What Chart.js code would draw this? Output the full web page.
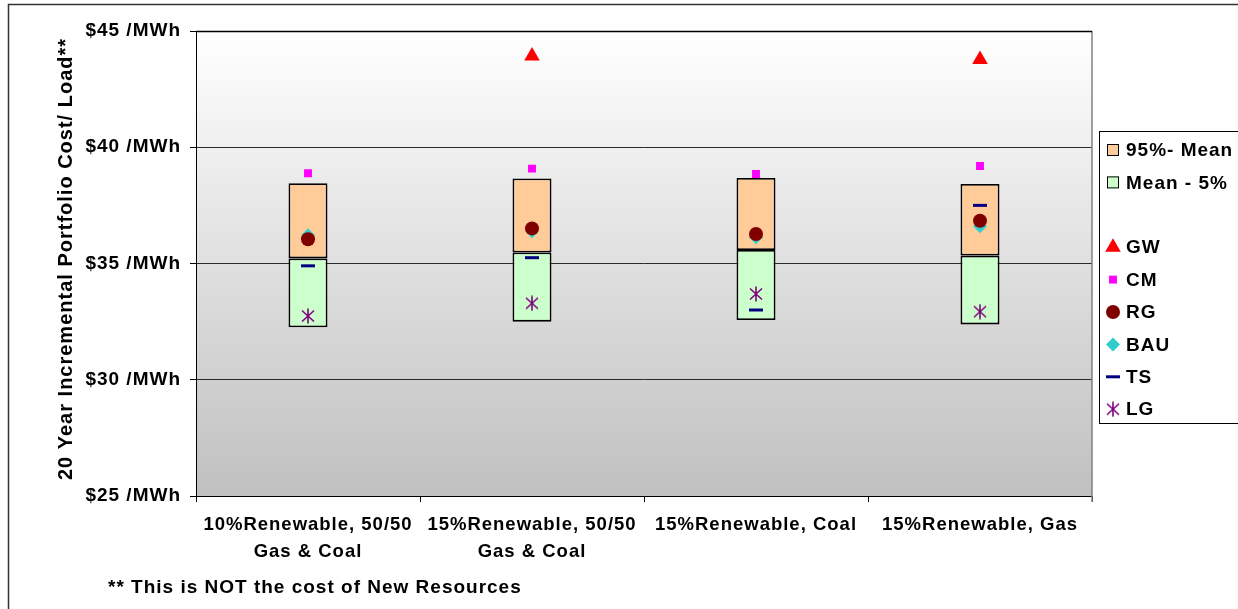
<!DOCTYPE html>
<html><head><meta charset="utf-8">
<script src="https://cdn.jsdelivr.net/npm/chart.js@4.4.0/dist/chart.umd.min.js"></script>
<style>html,body{margin:0;padding:0;background:#fff;overflow:hidden;}</style>
</head><body>
<canvas id="c" width="1238" height="609" style="display:block;width:1238px;height:609px"></canvas>
<script>
// ---- data ----
const categories = [["10%Renewable, 50/50", "Gas & Coal"], ["15%Renewable, 50/50", "Gas & Coal"], "15%Renewable, Coal", "15%Renewable, Gas"];
const yTicks = [25, 30, 35, 40, 45];
const p5   = [32.26, 32.50, 32.57, 32.38];
const mean = [35.22, 35.47, 35.58, 35.34];
const p95  = [38.45, 38.66, 38.68, 38.42];
const GW  = [null, 43.93, null, 43.77];
const CM  = [38.88, 39.08, 38.85, 39.19];
const RG  = [36.04, 36.51, 36.27, 36.84];
const BAU = [36.21, 36.39, 36.13, 36.60];
const TS  = [34.90, 35.25, 33.00, 37.50];
const LG  = [32.74, 33.29, 33.69, 32.93];
const yTitle = "20 Year Incremental Portfolio Cost/ Load**";
const footnote = "** This is NOT the cost of New Resources";

const FONT = '"Liberation Sans", Arial, sans-serif';

function makeAsterisk() {
  const c = document.createElement('canvas');
  c.width = 16; c.height = 16;
  const g = c.getContext('2d');
  g.strokeStyle = '#800080'; g.lineWidth = 1.6;
  g.beginPath();
  g.moveTo(2, 2.5); g.lineTo(14, 13.5);
  g.moveTo(14, 2.5); g.lineTo(2, 13.5);
  g.moveTo(8, 0.5); g.lineTo(8, 15.5);
  g.stroke();
  return c;
}
const asterisk = makeAsterisk();

function pointSet(label, data, style, radius, color, order, bw) {
  return {
    type: 'line', label, data, showLine: false, order,
    pointStyle: style, pointRadius: radius, pointHoverRadius: radius,
    pointBackgroundColor: color, pointBorderColor: color, pointBorderWidth: bw || 0,
    borderColor: color, backgroundColor: color
  };
}

const barCommon = { type: 'bar', grouped: false, barPercentage: 0.174, categoryPercentage: 1,
  borderColor: '#000', borderWidth: 1.8, borderSkipped: false, order: 20 };

const datasets = [
  Object.assign({ label: '95%- Mean', data: categories.map((_, i) => [mean[i], p95[i]]), backgroundColor: '#ffcc99' }, barCommon),
  Object.assign({ label: 'Mean - 5%', data: categories.map((_, i) => [p5[i], mean[i]]), backgroundColor: '#ccffcc' }, barCommon),
  pointSet('GW', GW, 'triangle', 9, '#ff0000', 6),
  pointSet('CM', CM, 'rect', 5.6, '#ff00ff', 5),
  pointSet('RG', RG, 'circle', 7, '#800000', 1),
  pointSet('BAU', BAU, 'rectRot', 7, '#33cccc', 4),
  pointSet('TS', TS, 'line', 7, '#000080', 3, 3),
  pointSet('LG', LG, asterisk, 8, '#800080', 2)
];

const spacing = {
  id: 'spacing',
  beforeLayout(chart) { chart.ctx.letterSpacing = '1px'; },
  beforeDraw(chart) { chart.ctx.letterSpacing = '1px'; }
};

const background = {
  id: 'background',
  beforeDraw(chart) {
    const { ctx, chartArea: a } = chart;
    ctx.save();
    ctx.fillStyle = '#fff';
    ctx.fillRect(0, 0, chart.width, chart.height);
    const g = ctx.createLinearGradient(0, a.top, 0, a.bottom);
    g.addColorStop(0, '#ffffff');
    g.addColorStop(1, '#c0c0c0');
    ctx.fillStyle = g;
    ctx.fillRect(a.left, a.top, a.right - a.left, a.bottom - a.top);
    ctx.restore();
  },
  beforeDatasetsDraw(chart) {
    const { ctx, chartArea: a } = chart;
    ctx.save();
    ctx.strokeStyle = '#808080'; ctx.lineWidth = 1.5;
    ctx.beginPath();
    ctx.moveTo(a.right, a.top); ctx.lineTo(a.right, a.bottom + 6);
    ctx.stroke();
    ctx.strokeStyle = '#000'; ctx.lineWidth = 1.5;
    ctx.beginPath();
    ctx.moveTo(a.left, a.top + 0.5); ctx.lineTo(a.right, a.top + 0.5);
    ctx.stroke();
    ctx.restore();
  }
};

const extras = {
  id: 'extras',
  afterDraw(chart) {
    const { ctx } = chart;
    ctx.save();
    ctx.letterSpacing = '1px';
    // outer border
    ctx.strokeStyle = '#333'; ctx.lineWidth = 1.5;
    ctx.strokeRect(8.5, 4.5, 1400, 800);
    // y title
    ctx.fillStyle = '#000';
    ctx.font = 'bold 20px ' + FONT;
    ctx.textAlign = 'center'; ctx.textBaseline = 'middle';
    ctx.save();
    ctx.translate(66, 259);
    ctx.rotate(-Math.PI / 2);
    ctx.fillText(yTitle, 0, 0);
    ctx.restore();
    // footnote
    ctx.font = 'bold 19px ' + FONT;
    ctx.textAlign = 'left';
    ctx.fillText(footnote, 108, 588);
    // legend
    const lx = 1099.5, ly = 131.5;
    ctx.fillStyle = '#fff';
    ctx.fillRect(lx, ly, 200, 292);
    ctx.strokeStyle = '#000'; ctx.lineWidth = 1;
    ctx.strokeRect(lx, ly, 200, 292);
    const slots = [0, 1, 3, 4, 5, 6, 7, 8];
    chart.data.datasets.forEach((ds, i) => {
      const y = 150 + slots[i] * 32.4;
      if (ds.type === 'bar') {
        ctx.fillStyle = ds.backgroundColor;
        ctx.fillRect(1107, y - 6, 12, 12);
        ctx.strokeStyle = '#000'; ctx.lineWidth = 1;
        ctx.strokeRect(1107.5, y - 5.5, 11, 11);
      } else {
        ctx.fillStyle = ds.pointBackgroundColor;
        ctx.strokeStyle = ds.pointBorderColor;
        ctx.lineWidth = ds.pointBorderWidth;
        Chart.helpers.drawPoint(ctx, { pointStyle: ds.pointStyle, radius: ds.pointRadius, rotation: 0, borderWidth: ds.pointBorderWidth }, 1113, y);
      }
      ctx.fillStyle = '#000';
      ctx.font = 'bold 19px ' + FONT;
      ctx.textAlign = 'left'; ctx.textBaseline = 'middle';
      ctx.fillText(ds.label, 1126, y + 1);
    });
    ctx.restore();
  }
};

new Chart(document.getElementById('c'), {
  type: 'bar',
  data: { labels: categories, datasets },
  options: {
    responsive: false,
    animation: false,
    devicePixelRatio: 1,
    layout: { padding: { left: 0, top: 31, right: 146, bottom: 0 } },
    plugins: { legend: { display: false }, tooltip: { enabled: false } },
    scales: {
      x: {
        offset: true,
        grid: { offset: true, drawOnChartArea: false, drawTicks: true, tickLength: 6, tickColor: '#000', lineWidth: 1 },
        border: { color: '#000', width: 1 },
        ticks: { color: '#000', font: { family: FONT, size: 18.5, weight: 'bold', lineHeight: 1.46 }, padding: 9, maxRotation: 0, autoSkip: false },
        afterFit(s) { s.height = 113; s.paddingLeft = 0; s.paddingRight = 0; }
      },
      y: {
        min: yTicks[0], max: yTicks[yTicks.length - 1],
        afterBuildTicks(s) { s.ticks = yTicks.map(v => ({ value: v })); },
        ticks: { color: '#000', font: { family: FONT, size: 19, weight: 'bold' }, padding: 9,
          callback: v => '$' + v + ' /MWh' },
        grid: { color: '#2a2a2a', lineWidth: 1, tickLength: 6, tickColor: '#000', drawTicks: true },
        border: { color: '#000', width: 1 },
        afterFit(s) { s.width = 196; s.paddingTop = 0; s.paddingBottom = 0; }
      }
    }
  },
  plugins: [spacing, background, extras]
});
</script>
</body></html>
